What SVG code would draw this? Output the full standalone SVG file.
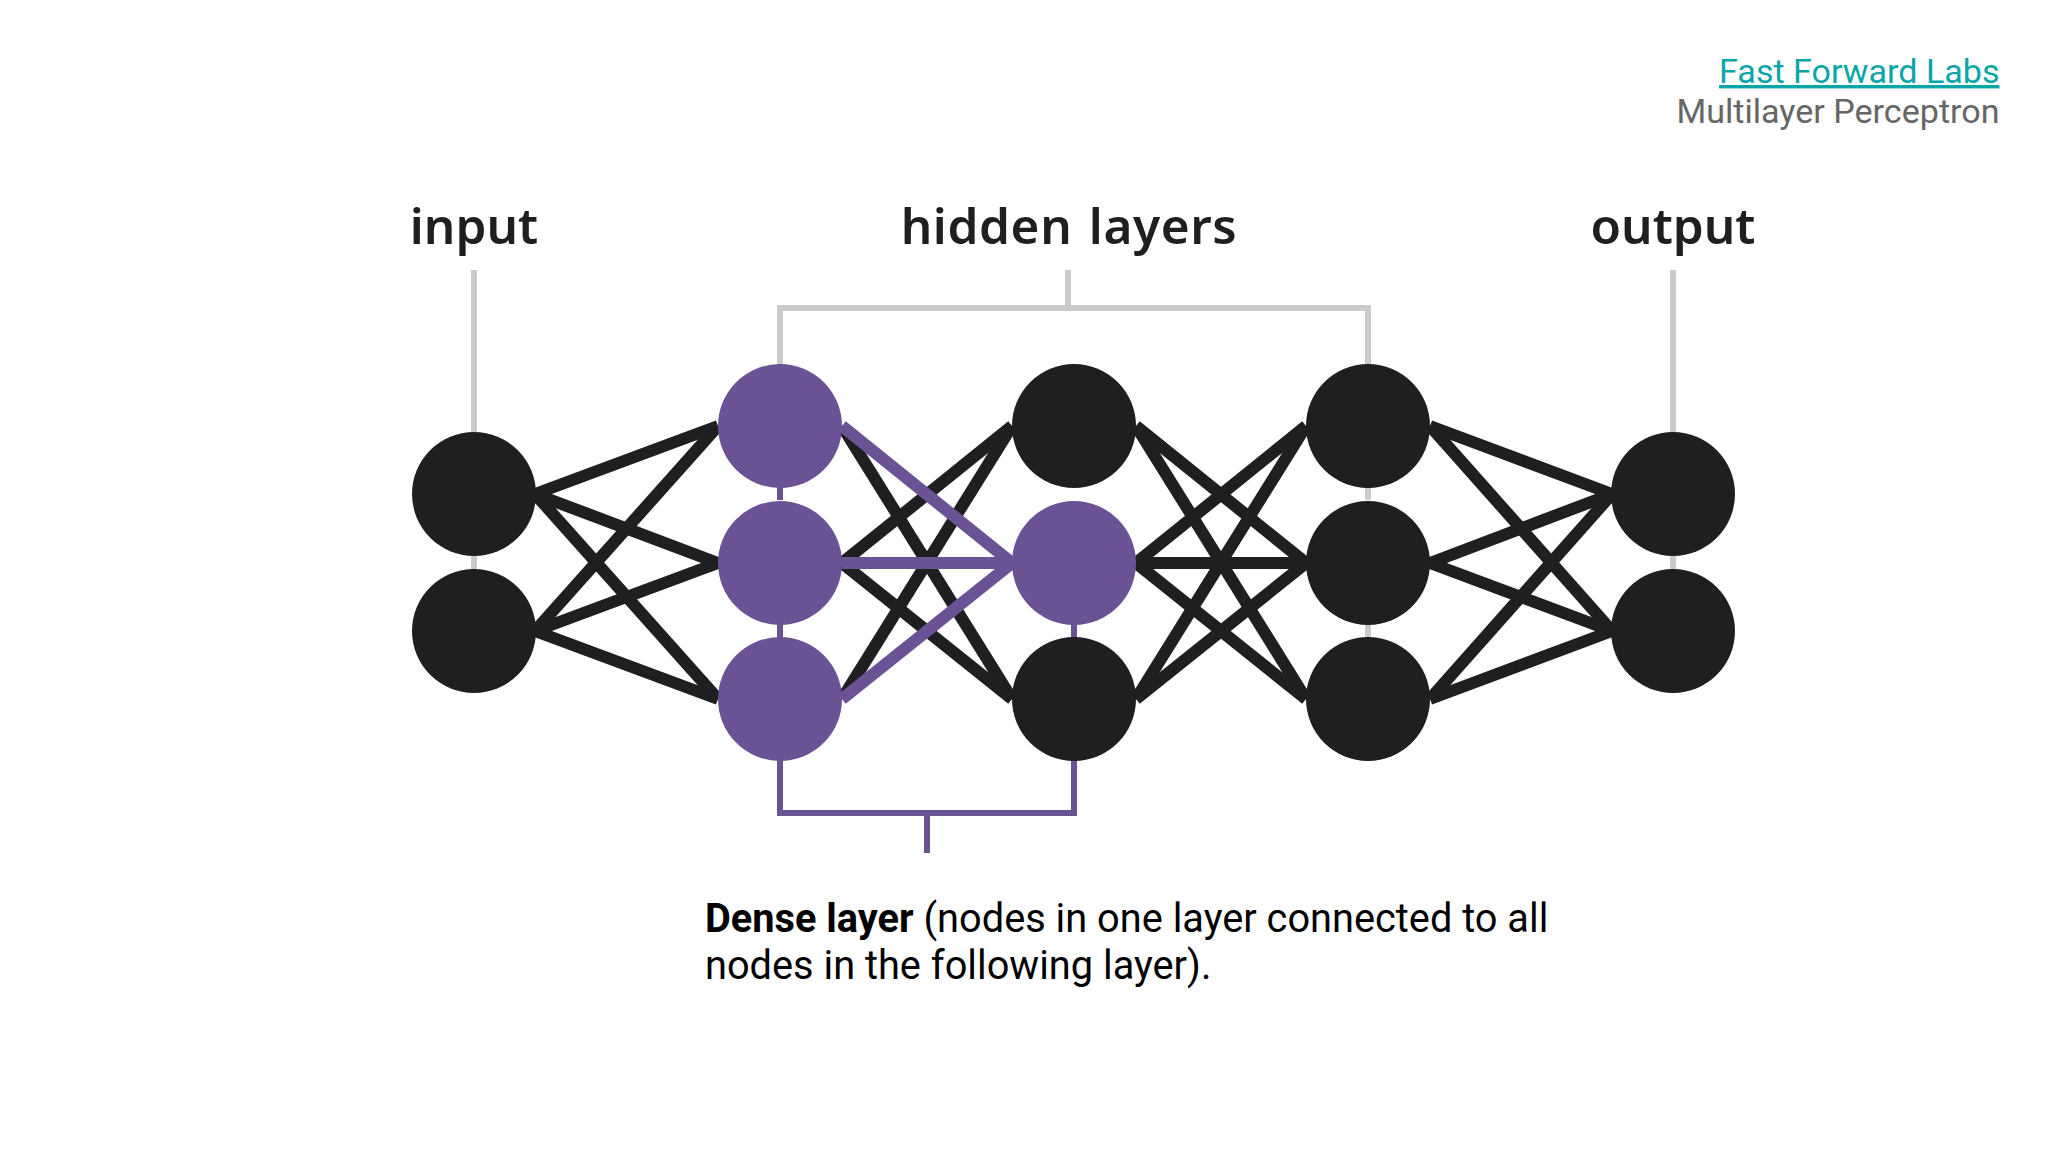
<svg xmlns="http://www.w3.org/2000/svg" width="2048" height="1152" viewBox="0 0 2048 1152">
<style>
.n{fill:#1f1e20}.p{fill:#6a5294}
.e line{stroke:#1f1e20;stroke-width:12;fill:none}
.e .v{stroke:#6a5294;stroke-width:12}
.g{stroke:#cbcbcb;stroke-width:6;fill:none}
.b{stroke:#6a5294;stroke-width:6;fill:none}
.lab{font-family:"Noto Sans",sans-serif;font-size:49.5px;font-weight:600;fill:#1f1e20;text-anchor:middle}
.cap{font-family:Roboto,sans-serif;font-size:39.75px;fill:#000}
.hd{font-family:Roboto,sans-serif;font-size:34.1px;text-anchor:end}
</style>
<rect width="2048" height="1152" fill="#fff"/>
<g id="connectors" class="e">
<path class="g" d="M474 270V440M474 550V580M1673 270V440M1673 550V580M1068 270V308M780 370V308H1368V370M1368 480V500M1368 620V640"/>
<path class="b" d="M780 480V500M780 620V640M1074 620V640M780 740V813H1074V740M927 813V853"/>
<line x1="535" y1="494" x2="718" y2="426"/><line x1="535" y1="494" x2="718" y2="563"/><line x1="535" y1="494" x2="718" y2="699"/>
<line x1="535" y1="631" x2="718" y2="426"/><line x1="535" y1="631" x2="718" y2="563"/><line x1="535" y1="631" x2="718" y2="699"/>
<line x1="842" y1="426" x2="1012" y2="699"/><line x1="842" y1="563" x2="1012" y2="426"/><line x1="842" y1="563" x2="1012" y2="699"/><line x1="842" y1="699" x2="1012" y2="426"/>
<line class="v" x1="842" y1="426" x2="1012" y2="563"/><line class="v" x1="842" y1="563" x2="1012" y2="563"/><line class="v" x1="842" y1="699" x2="1012" y2="563"/>
<line x1="1136" y1="426" x2="1306" y2="563"/><line x1="1136" y1="426" x2="1306" y2="699"/><line x1="1136" y1="563" x2="1306" y2="426"/><line x1="1136" y1="563" x2="1306" y2="563"/><line x1="1136" y1="563" x2="1306" y2="699"/><line x1="1136" y1="699" x2="1306" y2="426"/><line x1="1136" y1="699" x2="1306" y2="563"/>
<line x1="1430" y1="426" x2="1612" y2="494"/><line x1="1430" y1="426" x2="1612" y2="631"/><line x1="1430" y1="563" x2="1612" y2="494"/><line x1="1430" y1="563" x2="1612" y2="631"/><line x1="1430" y1="699" x2="1612" y2="494"/><line x1="1430" y1="699" x2="1612" y2="631"/>
</g>
<g id="input-1"><circle class="n" cx="474" cy="494" r="62"/></g>
<g id="input-2"><circle class="n" cx="474" cy="631" r="62"/></g>
<g id="h1-1"><circle class="p" cx="780" cy="426" r="62"/></g>
<g id="h1-2"><circle class="p" cx="780" cy="563" r="62"/></g>
<g id="h1-3"><circle class="p" cx="780" cy="699" r="62"/></g>
<g id="h2-1"><circle class="n" cx="1074" cy="426" r="62"/></g>
<g id="h2-2"><circle class="p" cx="1074" cy="563" r="62"/></g>
<g id="h2-3"><circle class="n" cx="1074" cy="699" r="62"/></g>
<g id="h3-1"><circle class="n" cx="1368" cy="426" r="62"/></g>
<g id="h3-2"><circle class="n" cx="1368" cy="563" r="62"/></g>
<g id="h3-3"><circle class="n" cx="1368" cy="699" r="62"/></g>
<g id="output-1"><circle class="n" cx="1673" cy="494" r="62"/></g>
<g id="output-2"><circle class="n" cx="1673" cy="631" r="62"/></g>
<g id="labels">
<text class="lab" x="474" y="244">input</text>
<text class="lab" x="1069" y="244" letter-spacing="0.6" word-spacing="3">hidden layers</text>
<text class="lab" x="1673" y="244">output</text>
<text class="cap" x="705" y="932"><tspan font-weight="700">Dense layer</tspan> (nodes in one layer connected to all</text>
<text class="cap" x="705" y="979">nodes in the following layer).</text>
<text class="hd" x="1999.5" y="83" fill="#0aa5a9" text-decoration="underline">Fast Forward Labs</text>
<text class="hd" x="1999.5" y="123" fill="#666">Multilayer Perceptron</text>
</g>
</svg>
